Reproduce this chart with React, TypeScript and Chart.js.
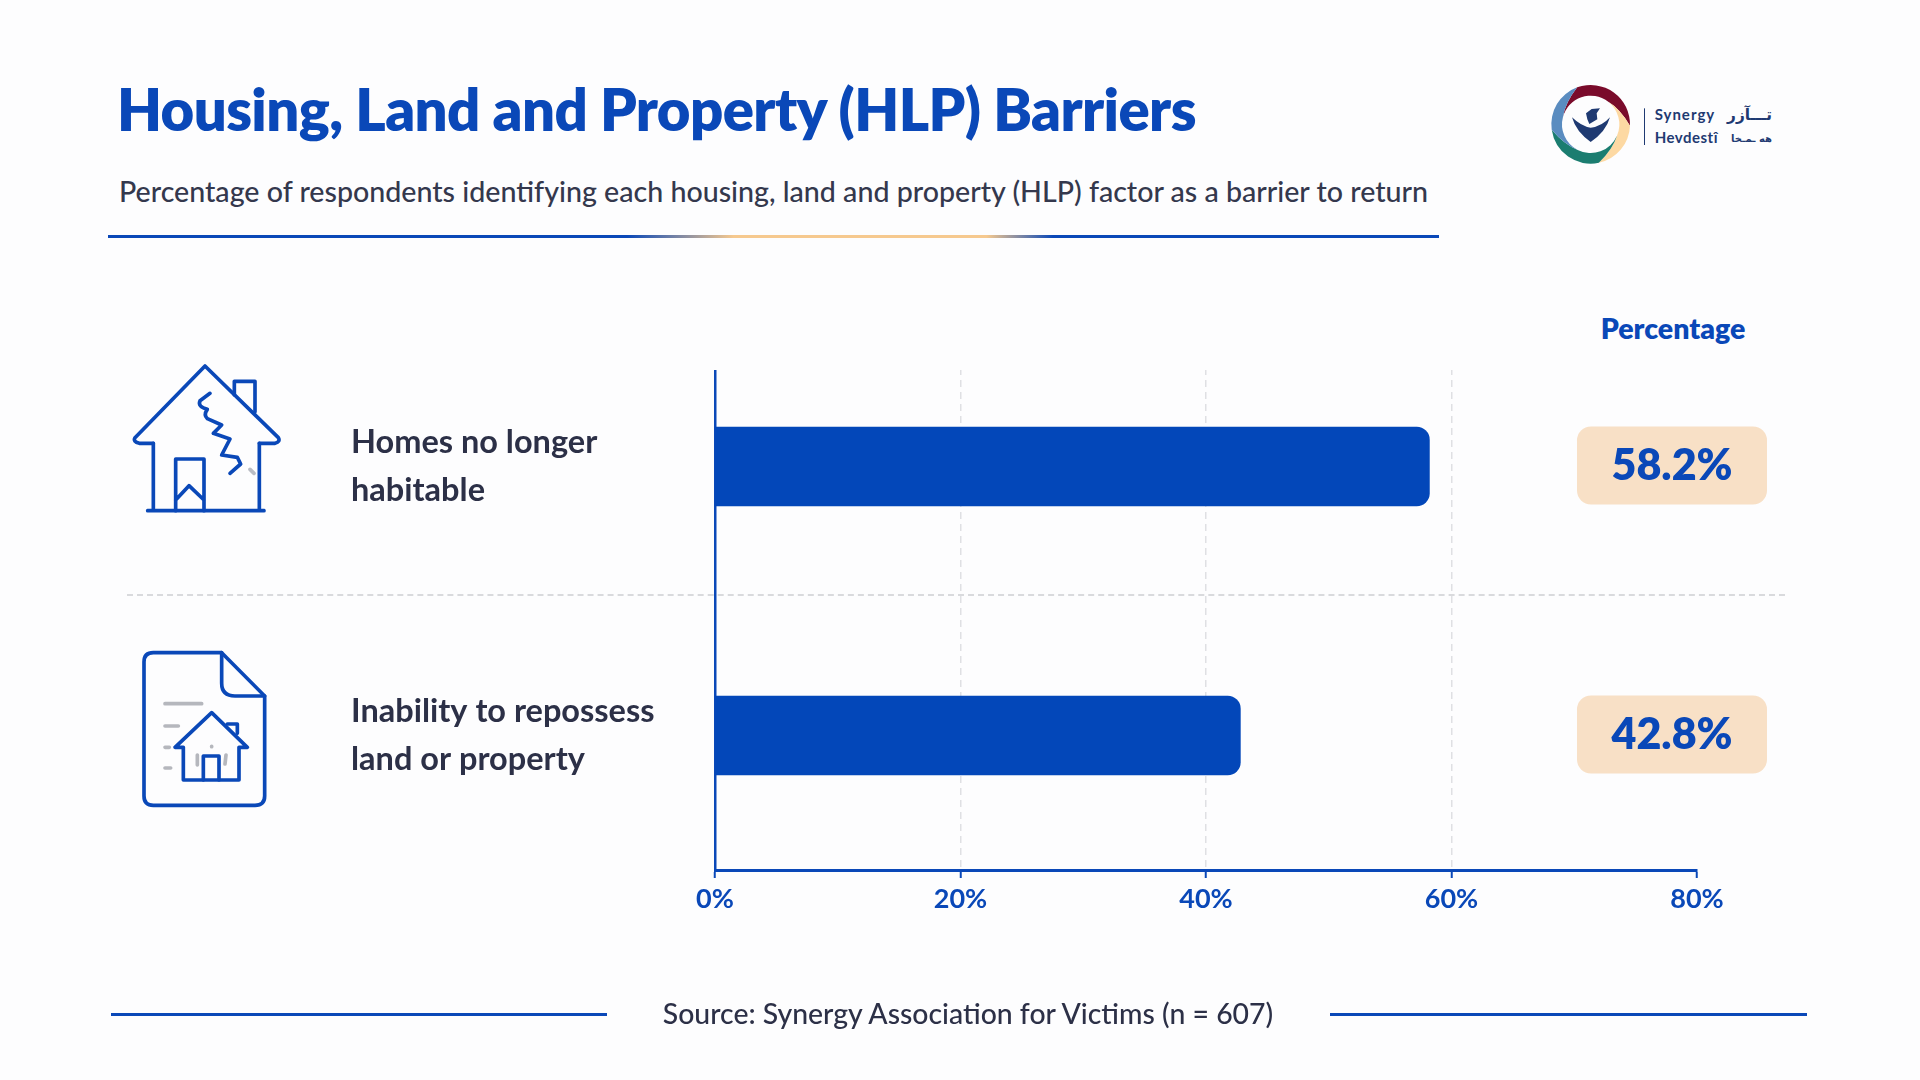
import { useEffect, useRef } from 'react'
import { Chart, registerables } from 'chart.js'

Chart.register(...registerables)

const categories = [
  ['Homes no longer', 'habitable'],
  ['Inability to repossess', 'land or property'],
]
const percentages = [58.2, 42.8]
const xTicks = [0, 20, 40, 60, 80]

const BLUE = '#0a48b8'
const INK = '#2c3047'
const PILL = '#f8e0c6'
const FONT = 'Lato, "Noto Sans", sans-serif'

// grid lines and the left axis start lower than the top of the bar bands
const trimTop = {
  id: 'trimTop',
  beforeDatasetsDraw(chart: Chart) {
    const { left, right, top } = chart.chartArea
    chart.ctx.clearRect(left - 3, top - 3, right - left + 6, 370 - top + 3)
  },
}

const valuePills = {
  id: 'valuePills',
  afterDatasetsDraw(chart: Chart) {
    const { ctx } = chart
    const yScale = chart.scales.y
    percentages.forEach((value, i) => {
      const y = yScale.getPixelForValue(i)
      ctx.save()
      ctx.fillStyle = PILL
      ctx.beginPath()
      ctx.roundRect(1577, y - 40, 190, 78, 14)
      ctx.fill()
      ctx.fillStyle = BLUE
      ctx.font = `800 43px ${FONT}`
      ctx.textAlign = 'center'
      ctx.textBaseline = 'middle'
      ctx.fillText(`${value}%`, 1672, y)
      ctx.restore()
    })
  },
}

function Text({ x, y, size, weight, color, children, center, spacing }: any) {
  return (
    <div
      style={{
        position: 'absolute',
        left: x,
        top: y,
        transform: center ? 'translate(-50%, -50%)' : 'translateY(-50%)',
        fontFamily: FONT,
        fontSize: size,
        fontWeight: weight,
        color,
        letterSpacing: spacing,
        whiteSpace: 'nowrap',
      }}
    >
      {children}
    </div>
  )
}

function Rule({ x, y, w, background }: any) {
  return <div style={{ position: 'absolute', left: x, top: y, width: w, height: 3, background }} />
}

function Logo() {
  const polar = (r: number, deg: number) => {
    const a = (deg * Math.PI) / 180
    return `${272 + r * Math.sin(a)} ${193 - r * Math.cos(a)}`
  }
  const segments = [
    { from: -20, to: 92, color: '#7a0b2b' },
    { from: 92, to: 168, color: '#fdd9a3' },
    { from: 168, to: 262, color: '#1b7d70' },
    { from: 262, to: 340, color: '#5a8cc0' },
  ]
  return (
    <svg style={{ position: 'absolute', left: 1500, top: 60 }} width={320} height={120} viewBox="0 0 960 360">
      {segments.map((s) => (
        <path
          key={s.color}
          fill={s.color}
          d={`M${polar(118, s.from)} A118 118 0 0 1 ${polar(118, s.to)} Q${polar(100, s.to - 30)} ${polar(86, s.to - 55)} A86 86 0 0 0 ${polar(86, s.from - 55)} Q${polar(100, s.from - 30)} ${polar(118, s.from)}Z`}
        />
      ))}
      <path fill="#1f3a72" d="M216 172 Q245 200 272 203 Q305 200 330 172 Q318 215 272 246 Q228 215 216 172Z" />
      <path fill="#1f3a72" d="M258 160 L275 147 L300 145 L290 160 L292 178 L268 192 L262 178 Z" />
      <rect x={432} y={145} width={3} height={110} fill="#1f3a72" />
      <text x={464} y={181} fontFamily={FONT} fontWeight={700} fontSize={45} fill="#1f3a72" letterSpacing={3}>
        Synergy
      </text>
      <text x={464} y={248} fontFamily={FONT} fontWeight={700} fontSize={45} fill="#1f3a72" letterSpacing={1.5}>
        Hevdestî
      </text>
      <text x={816} y={181} textAnchor="end" fontFamily="DejaVu Sans" fontWeight={700} fontSize={46} fill="#1f3a72">
        تـــآزر
      </text>
      <text x={816} y={246} textAnchor="end" fontFamily="DejaVu Sans" fontWeight={700} fontSize={30} fill="#1f3a72">
        هه ـمـخا
      </text>
    </svg>
  )
}

function HouseIcon() {
  return (
    <svg
      style={{ position: 'absolute', left: 110, top: 340 }}
      width={200}
      height={200}
      viewBox="0 0 600 600"
      fill="none"
      stroke={BLUE}
      strokeWidth={11}
      strokeLinecap="round"
      strokeLinejoin="round"
    >
      <path d="M130 310 H88 Q68 305 75 293 L285 78 L505 293 Q512 305 495 310 H448" />
      <path d="M130 310 V512 M448 310 V512 M113 512 H462" />
      <path d="M373 165 V124 H435 V215" />
      <path d="M300 160 L270 182 Q262 200 292 208 Q280 225 292 236 L335 255 L310 280 L360 297 L335 345 L382 352 L392 372 L360 400" />
      <path d="M197 512 V357 H282 V512 M197 480 L237 437 L282 480" />
      <path d="M420 388 L432 400" stroke="#b9bcc4" />
    </svg>
  )
}

function DocIcon() {
  return (
    <svg
      style={{ position: 'absolute', left: 120, top: 630 }}
      width={170}
      height={190}
      viewBox="0 0 510 570"
      fill="none"
      stroke={BLUE}
      strokeWidth={11}
      strokeLinecap="round"
      strokeLinejoin="round"
    >
      <path d="M305 68 H100 Q72 68 72 96 V498 Q72 526 100 526 H405 Q434 526 434 498 V198 L305 68Z" />
      <path d="M305 68 V160 Q305 198 345 198 H434" />
      <g stroke="#b5b7bd">
        <path d="M135 221 H245 M135 288 H175 M135 352 H148 M135 414 H152 M232 375 V405 M318 375 L315 402 M275 349 V350" />
      </g>
      <path d="M190 352 H165 L275 248 L382 352 H357 M190 352 V450 H357 V352" />
      <path d="M322 282 H352 V310 M250 450 V378 H297 V450" />
    </svg>
  )
}

export default function App() {
  const chartRef = useRef<HTMLCanvasElement>(null)

  useEffect(() => {
    if (!chartRef.current) return
    const chart = new Chart(chartRef.current, {
      type: 'bar',
      data: {
        labels: categories,
        datasets: [
          {
            data: percentages,
            backgroundColor: '#0347b9',
            barThickness: 79,
            borderSkipped: false,
            borderRadius: { topLeft: 0, bottomLeft: 0, topRight: 13, bottomRight: 13 },
          },
        ],
      },
      plugins: [trimTop, valuePills],
      options: {
        indexAxis: 'y',
        responsive: false,
        animation: false,
        layout: { padding: { left: 351, right: 223, top: 332, bottom: 150 } },
        plugins: { legend: { display: false }, tooltip: { enabled: false } },
        scales: {
          x: {
            min: 0,
            max: 80,
            afterFit: (scale: any) => {
              scale.height = 60
            },
            afterBuildTicks: (scale: any) => {
              scale.ticks = xTicks.map((value) => ({ value }))
            },
            border: { color: BLUE, width: 3, dash: [7, 5] },
            grid: {
              color: (ctx: any) => (ctx.tick && ctx.tick.value > 0 && ctx.tick.value < 80 ? '#dfe0e3' : 'transparent'),
              tickColor: BLUE,
              tickLength: 8,
              tickWidth: 2,
              lineWidth: 1.5,
            },
            ticks: {
              color: BLUE,
              padding: 5,
              maxRotation: 0,
              font: { family: FONT, size: 27, weight: 'bold' },
              callback: (value: any) => `${value}%`,
            },
          },
          y: {
            afterFit: (scale: any) => {
              scale.width = 364
            },
            border: { color: BLUE, width: 2.5 },
            grid: { display: false, drawTicks: false },
            ticks: {
              color: INK,
              crossAlign: 'far',
              font: { family: FONT, size: 32.5, weight: 'bold', lineHeight: 1.47 },
            },
          },
        },
      } as any,
    })
    return () => chart.destroy()
  }, [])

  return (
    <div style={{ position: 'absolute', left: 0, top: 0, width: 1920, height: 1080, background: '#fdfdfe', overflow: 'hidden' }}>
      <Text x={117} y={108} size={58} weight={800} color={BLUE} spacing={-0.6}>
        Housing, Land and Property (HLP) Barriers
      </Text>
      <Text x={119} y={191} size={28.6} weight={500} color="#34384d">
        Percentage of respondents identifying each housing, land and property (HLP) factor as a barrier to return
      </Text>
      <Rule
        x={108}
        y={235}
        w={1331}
        background={`linear-gradient(90deg, ${BLUE} 0%, ${BLUE} 39%, #f6c98f 47%, #f6c98f 66%, ${BLUE} 71%, ${BLUE} 100%)`}
      />
      <Logo />
      <Text x={1673} y={328} size={28.5} weight={800} color={BLUE} center>
        Percentage
      </Text>
      <HouseIcon />
      <DocIcon />
      <div style={{ position: 'absolute', left: 127, top: 594, width: 1658, borderTop: '2px dashed #d9dadd' }} />
      <canvas ref={chartRef} width={1920} height={1080} style={{ position: 'absolute', left: 0, top: 0 }} />
      <Rule x={111} y={1013} w={496} background={BLUE} />
      <Text x={968} y={1013} size={28.4} weight={500} color={INK} center>
        Source: Synergy Association for Victims (n = 607)
      </Text>
      <Rule x={1330} y={1013} w={477} background={BLUE} />
    </div>
  )
}
